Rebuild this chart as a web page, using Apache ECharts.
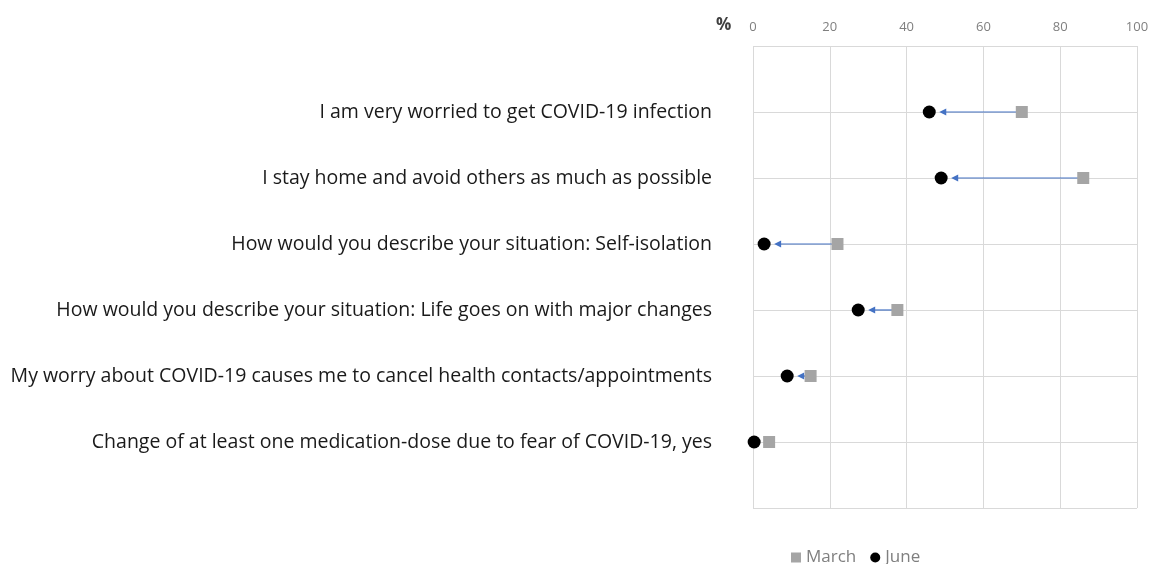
<!DOCTYPE html>
<html>
<head>
<meta charset="utf-8">
<title>COVID-19 worry, March vs June</title>
<script src="https://cdn.jsdelivr.net/npm/echarts@6/dist/echarts.min.js"></script>
<style>
  html, body { margin: 0; padding: 0; background: #fff; }
  #chart { width: 1153px; height: 564px; }
</style>
</head>
<body>
<div id="chart"></div>
<script>
// survey items, top to bottom
var categories = [
  'I am very worried to get COVID-19 infection',
  'I stay home and avoid others as much as possible',
  'How would you describe your situation: Self-isolation',
  'How would you describe your situation: Life goes on with major changes',
  'My worry about COVID-19 causes me to cancel health contacts/appointments',
  'Change of at least one medication-dose due to fear of COVID-19, yes'
];
var marchValues = [70, 86, 22, 37.6, 15, 4.2];
var juneValues = [45.9, 49, 2.9, 27.4, 8.9, 0.3];
var xTicks = [0, 20, 40, 60, 80, 100];

var font = '"Open Sans", Lato, sans-serif';

function toPoints(vals) {
  var out = [];
  for (var i = 0; i < vals.length; i++) out.push([vals[i], i + 1]);
  return out;
}

var arrowData = [];
for (var i = 0; i < categories.length; i++) {
  arrowData.push([marchValues[i], juneValues[i], i + 1]);
}

var myChart = echarts.init(document.getElementById('chart'));
var option = {
  animation: false,
  textStyle: { fontFamily: font },
  grid: { left: 753, right: 16, top: 46, bottom: 56 },
  graphic: [{
    type: 'text',
    left: 716,
    top: 17,
    style: { text: '%', fontSize: 17, fontWeight: 'bold', fill: '#404040', fontFamily: font }
  }],
  legend: {
    left: 786,
    top: 544,
    itemGap: 14,
    itemWidth: 10,
    itemHeight: 10,
    textStyle: { color: '#7f7f7f', fontSize: 17, fontFamily: font },
    data: [
      { name: 'March', icon: 'rect' },
      { name: 'June', icon: 'circle' }
    ]
  },
  xAxis: {
    type: 'value',
    position: 'top',
    min: xTicks[0],
    max: xTicks[xTicks.length - 1],
    interval: 20,
    axisLine: { show: false },
    axisTick: { show: false },
    axisLabel: { color: '#7f7f7f', fontSize: 13, margin: 12 },
    splitLine: { show: true, lineStyle: { color: '#d9d9d9', width: 1 } }
  },
  yAxis: {
    type: 'value',
    inverse: true,
    min: 0,
    max: categories.length + 1,
    interval: 1,
    axisLine: { show: false },
    axisTick: { show: false },
    axisLabel: {
      margin: 41,
      fontSize: 19.5,
      color: '#1a1a1a',
      formatter: function(v) { return categories[v - 1] || ''; }
    },
    splitLine: { show: true, lineStyle: { color: '#d9d9d9', width: 1 } }
  },
  series: [{
    name: 'change',
    type: 'custom',
    silent: true,
    data: arrowData,
    encode: { x: [0, 1], y: 2 },
    renderItem: function(params, api) {
      var from = api.coord([api.value(0), api.value(2)]);
      var to = api.coord([api.value(1), api.value(2)]);
      var tipX = to[0] + 10;
      var headLen = 7;
      var y = from[1];
      return {
        type: 'group',
        children: [{
          type: 'line',
          shape: { x1: from[0], y1: y, x2: tipX + headLen - 1, y2: y },
          style: { stroke: '#4472c4', lineWidth: 1.2 }
        }, {
          type: 'polygon',
          shape: { points: [[tipX, y], [tipX + headLen, y - 3.5], [tipX + headLen, y + 3.5]] },
          style: { fill: '#4472c4' }
        }]
      };
    }
  }, {
    name: 'March',
    type: 'scatter',
    symbol: 'rect',
    symbolSize: 12,
    itemStyle: { color: '#a5a5a5', opacity: 1 },
    data: toPoints(marchValues)
  }, {
    name: 'June',
    type: 'scatter',
    symbol: 'circle',
    symbolSize: 13,
    itemStyle: { color: '#000000', opacity: 1 },
    data: toPoints(juneValues)
  }]
};
myChart.setOption(option);
</script>
</body>
</html>
